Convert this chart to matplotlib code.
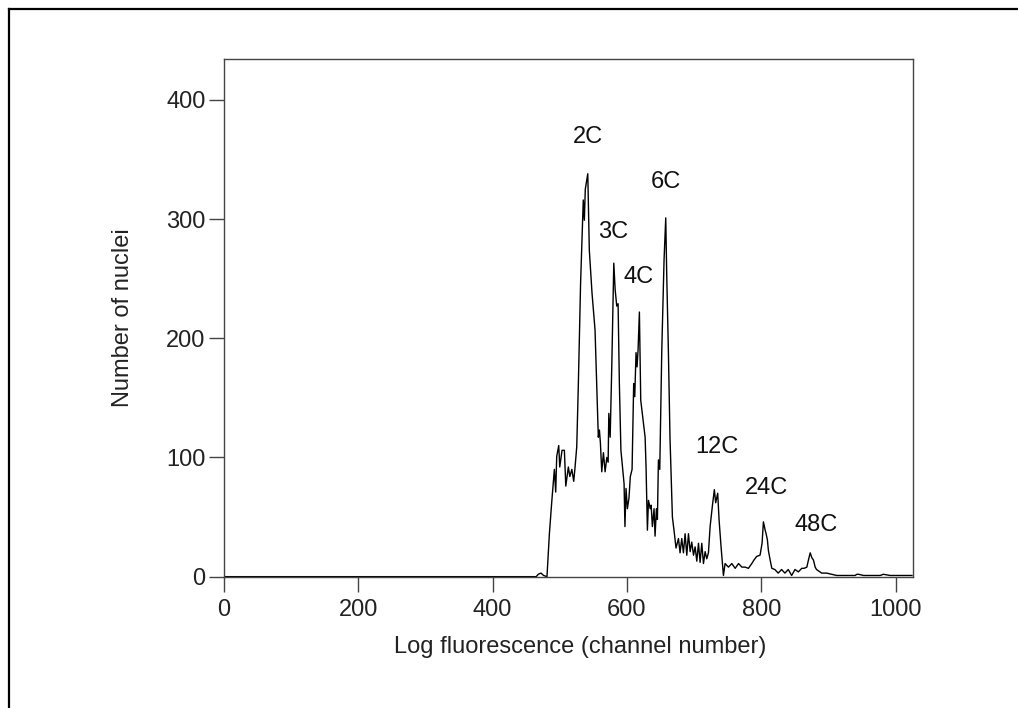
import matplotlib
matplotlib.use("Agg")
import matplotlib.pyplot as plt
from matplotlib.lines import Line2D

plt.rcParams['font.family'] = ['Liberation Sans', 'DejaVu Sans']

# channel number vs count
channel = [0, 465, 468, 472, 476, 481, 484.6, 488, 492, 494, 495.5, 498.5, 500, 503.4,
           506.9, 509, 512.8, 515, 518, 520.8, 522.8, 525.3, 527.7, 531, 535, 536.6,
           538, 541.7, 544, 548, 552.5, 555, 557.4, 559, 560.5, 562.5, 565, 567.5,
           570, 572, 573, 575, 577.4, 578.8, 580.4, 582.4, 584.8, 586.8, 588.7, 591,
           595.7, 597, 598.6, 600.6, 603, 605, 607.6, 610, 611.6, 613.5, 615, 616.5,
           618.5, 620.5, 623.5, 627, 628.4, 630.4, 632, 634.6, 636, 637.8, 640.3,
           641.8, 643.8, 645.3, 646.8, 648.8, 651.8, 655.2, 657.7, 659.2, 661.6, 664,
           667.6, 670.6, 673, 676.6, 679, 681.5, 684, 686.5, 689, 691.5, 694, 696.4,
           699, 701.4, 703.9, 706.4, 708.8, 711.3, 713.8, 716.3, 718.7, 721.2, 723.7,
           727, 730, 732, 735, 737, 740, 743.5, 746, 751, 756, 761, 766, 771, 775.8,
           780.7, 785.7, 789, 793, 798, 801, 803, 805.6, 807, 808.9, 810.4, 813,
           815.5, 820, 825, 830, 835, 840, 845, 850, 855, 860, 863.5, 867.6, 870,
           872.6, 875, 877.4, 880, 882, 889.7, 897, 904.5, 912, 939.5, 942, 944.5,
           952, 961.8, 976.7, 981.6, 991.5, 996.5, 1021, 1024]
count = [0, 0, 2, 3, 1, 0, 36, 62, 90, 71, 101, 110, 92, 106,
         106, 76, 92, 84, 90, 80, 92, 109, 162, 246, 316, 299,
         325, 338, 274, 238, 207, 162, 117, 123, 112, 88, 104, 88,
         100, 96, 137, 117, 176, 218, 263, 241, 227, 229, 162, 106,
         78, 42, 74, 57, 66, 84, 90, 162, 151, 188, 176, 190,
         222, 148, 134, 117, 92, 39, 64, 57, 60, 42, 57,
         34, 57, 48, 98, 90, 190, 266, 301, 252, 190, 117,
         50, 36, 24, 32, 20, 32, 20, 36, 18, 36, 21, 29,
         18, 25, 13, 28, 12, 28, 11, 21, 15, 20, 42,
         59, 73, 62, 70, 48, 25, 1, 11, 8, 11, 7, 11, 8, 8,
         7, 11, 14, 17, 18, 28, 46, 39, 36, 31, 22, 14,
         7, 6, 3, 6, 3, 6, 1, 6, 4, 7, 7, 8, 14,
         20, 16, 14, 8, 6, 3, 3, 2, 1, 1, 2, 2,
         1, 1, 1, 2, 1, 1, 1, 1]

peak_labels = ['2C', '3C', '4C', '6C', '12C', '24C', '48C']
label_x = [542, 579, 618, 658, 734, 807, 881]
label_y = [369, 289, 251, 331, 109, 74, 43]

fig = plt.figure(figsize=(10.18, 7.08), dpi=100)
ax = fig.add_axes([0.2197, 0.1855, 0.6768, 0.7307])

ax.plot(channel, count, color='black', lw=1.0)

for lab, lx, ly in zip(peak_labels, label_x, label_y):
    ax.text(lx, ly, lab, fontsize=17, ha='center', va='center', color='#111111')

ax.set_xlim(0, 1025)
ax.set_ylim(0, 434)
ax.set_xticks([0, 200, 400, 600, 800, 1000])
ax.set_yticks([0, 100, 200, 300, 400])
ax.tick_params(direction='out', length=11, width=1.0, color='#444444',
               labelsize=17, labelcolor='#222222')
ax.tick_params(axis='x', pad=5)
ax.tick_params(axis='y', pad=2)
for s in ax.spines.values():
    s.set_color('#444444')
    s.set_linewidth(1.0)

ax.set_xlabel('Log fluorescence (channel number)', fontsize=17, color='#222222')
ax.set_ylabel('Number of nuclei', fontsize=17, color='#222222')
ax.xaxis.set_label_coords(0.517, -0.115)
ax.yaxis.set_label_coords(-0.130, 0.5)

# outer frame, only top and left edges are in the picture
fig.add_artist(Line2D([0.0085, 0.0085], [0, 0.9875], transform=fig.transFigure,
                      color='black', lw=1.6))
fig.add_artist(Line2D([0.0085, 1.0], [0.9875, 0.9875], transform=fig.transFigure,
                      color='black', lw=1.6))

fig.savefig('out.png', dpi=100)
